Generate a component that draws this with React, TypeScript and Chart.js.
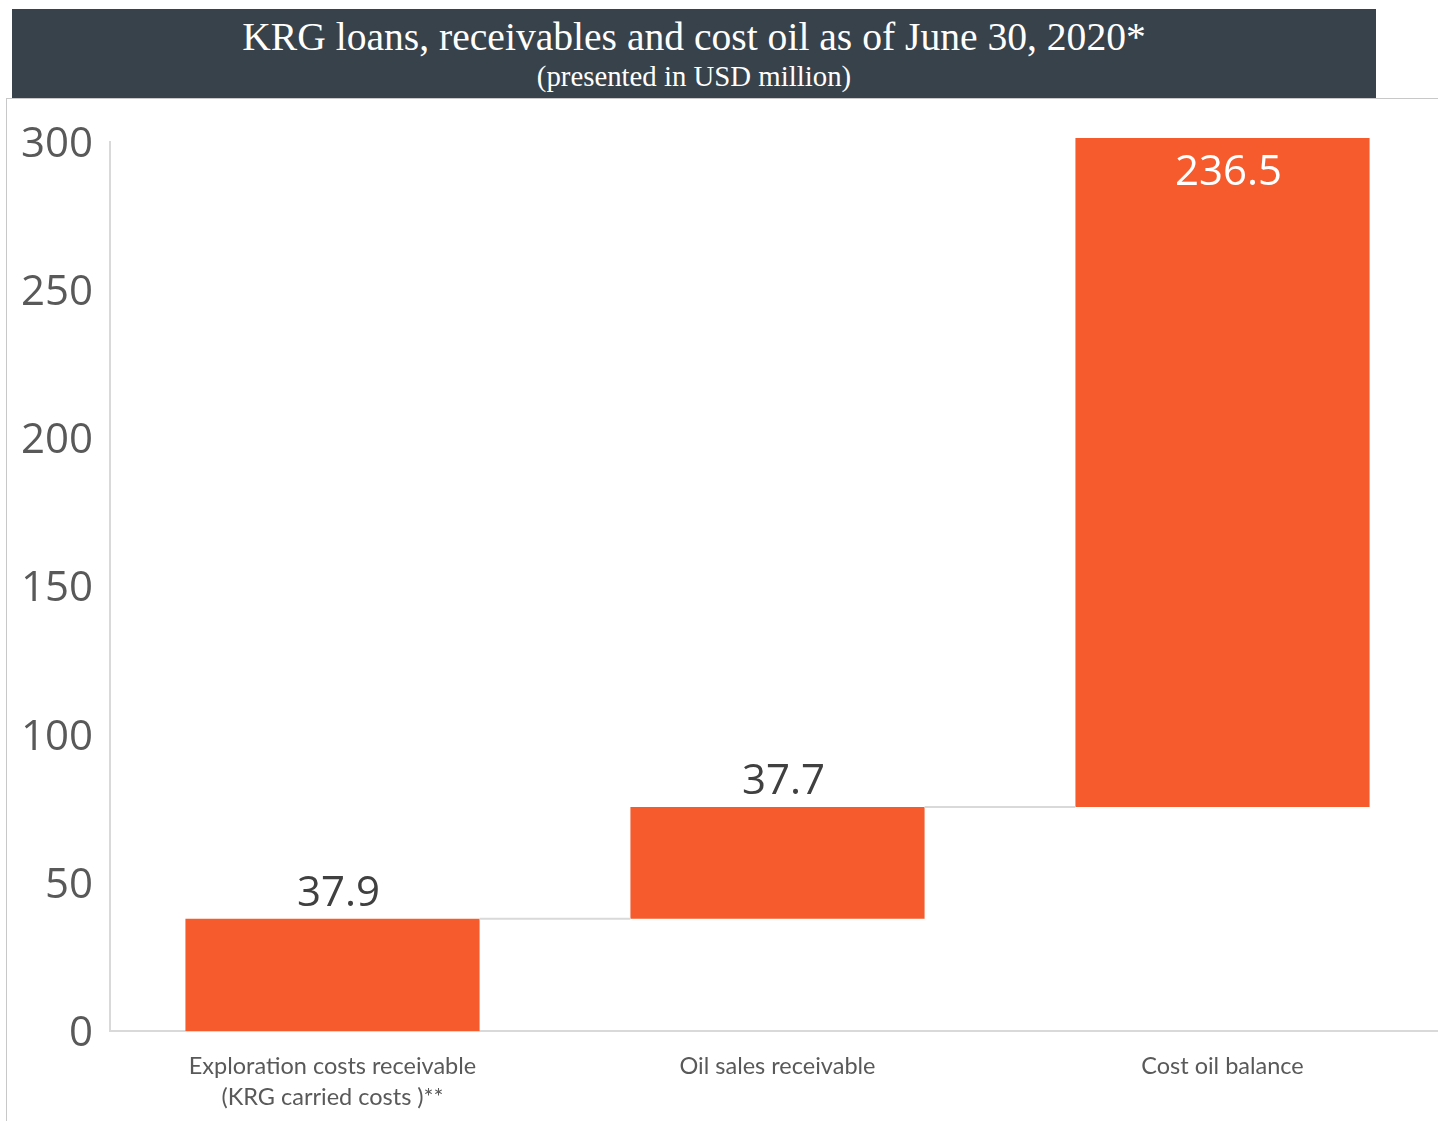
import React, { useEffect, useRef } from "react";
import { Chart, registerables } from "chart.js";

Chart.register(...registerables);

const categories: (string | string[])[] = [
  ["Exploration costs receivable", "(KRG carried costs )**"],
  "Oil sales receivable",
  "Cost oil balance",
];
const increments: number[] = [37.9, 37.7, 236.5];
const valueLabels: string[] = ["37.9", "37.7", "236.5"];
const yTicks: number[] = [0, 50, 100, 150, 200, 250, 300];

const BAR_COLOR = "#F55B2C";
const CANVAS_W = 1445;

export default function App() {
  const ref = useRef<HTMLCanvasElement | null>(null);

  useEffect(() => {
    if (!ref.current) return;
    const floating: [number, number][] = [];
    let acc = 0;
    increments.forEach((v) => {
      floating.push([acc, +(acc + v).toFixed(1)]);
      acc += v;
    });

    const connectorPlugin = {
      id: "connectors",
      afterDatasetsDraw(chart: any) {
        const meta = chart.getDatasetMeta(0);
        const ctx = chart.ctx;
        const y = chart.scales.y;
        ctx.save();
        ctx.strokeStyle = "#d9d9d9";
        ctx.lineWidth = 2;
        for (let i = 0; i < meta.data.length - 1; i++) {
          const a = meta.data[i];
          const b = meta.data[i + 1];
          const yy = y.getPixelForValue(floating[i][1]);
          ctx.beginPath();
          ctx.moveTo(a.x + a.width / 2, yy);
          ctx.lineTo(b.x - b.width / 2, yy);
          ctx.stroke();
        }
        ctx.font = "42px 'Open Sans', 'Noto Sans', sans-serif";
        ctx.textAlign = "center";
        ctx.textBaseline = "middle";
        meta.data.forEach((bar: any, i: number) => {
          const top = Math.max(y.getPixelForValue(floating[i][1]), chart.chartArea.top - 4);
          if (top < chart.chartArea.top + 10) {
            ctx.fillStyle = "#ffffff";
            ctx.fillText(valueLabels[i], bar.x + 6, top + 35);
          } else {
            ctx.fillStyle = "#404040";
            ctx.fillText(valueLabels[i], bar.x + 6, top - 25);
          }
        });
        ctx.restore();
      },
    };

    const chart = new Chart(ref.current, {
      type: "bar",
      data: {
        labels: categories,
        datasets: [
          {
            data: floating as any,
            backgroundColor: BAR_COLOR,
            borderWidth: 0,
            borderSkipped: false,
            barPercentage: 0.661,
            categoryPercentage: 1,
            clip: { left: 0, top: 4, right: 0, bottom: 0 } as any,
          },
        ],
      },
      options: {
        animation: false,
        responsive: false,
        layout: { padding: { top: 142, left: 0, right: 0, bottom: 0 } },
        plugins: {
          legend: { display: false },
          tooltip: { enabled: false },
        },
        scales: {
          x: {
            grid: { display: false, drawTicks: false },
            border: { display: true, color: "#d9d9d9", width: 2 },
            ticks: {
              color: "#595959",
              font: { family: "Lato, 'Open Sans', sans-serif", size: 23.5, lineHeight: 1.32 },
              padding: 20,
              maxRotation: 0,
              autoSkip: false,
            },
            afterFit(scale: any) {
              scale.height = 90;
            },
          },
          y: {
            min: 0,
            max: 300,
            afterBuildTicks(scale: any) {
              scale.ticks = yTicks.map((v) => ({ value: v }));
            },
            grid: { display: false, drawTicks: false },
            border: { display: true, color: "#d9d9d9", width: 2 },
            ticks: {
              color: "#595959",
              font: { family: "'Open Sans', 'Noto Sans', sans-serif", size: 42 },
              padding: 17,
              labelOffset: 3,
            },
            afterFit(scale: any) {
              scale.width = 110;
            },
          },
        },
      },
      plugins: [connectorPlugin],
    });
    return () => chart.destroy();
  }, []);

  return (
    <div
      style={{
        position: "fixed",
        left: 0,
        top: 0,
        width: 1438,
        height: 1121,
        background: "#ffffff",
        overflow: "hidden",
      }}
    >
      <canvas
        ref={ref}
        width={CANVAS_W}
        height={1121}
        style={{ position: "absolute", left: 0, top: 0, width: CANVAS_W, height: 1121 }}
      />
      <div
        style={{
          position: "absolute",
          left: 6,
          top: 98,
          width: 1432,
          height: 1030,
          borderTop: "1px solid #c8c8c8",
          borderLeft: "1px solid #c8c8c8",
          boxSizing: "border-box",
          pointerEvents: "none",
        }}
      />
      <div
        style={{
          position: "absolute",
          left: 12,
          top: 9,
          width: 1364,
          height: 89,
          background: "#38424B",
          color: "#ffffff",
          textAlign: "center",
          fontFamily: "'Liberation Serif', serif",
        }}
      >
        <div style={{ fontSize: 39.6, lineHeight: "40px", paddingTop: 8 }}>
          KRG loans, receivables and cost oil as of June 30, 2020*
        </div>
        <div style={{ fontSize: 28.8, lineHeight: "32px", marginTop: 3 }}>
          (presented in USD million)
        </div>
      </div>
    </div>
  );
}
